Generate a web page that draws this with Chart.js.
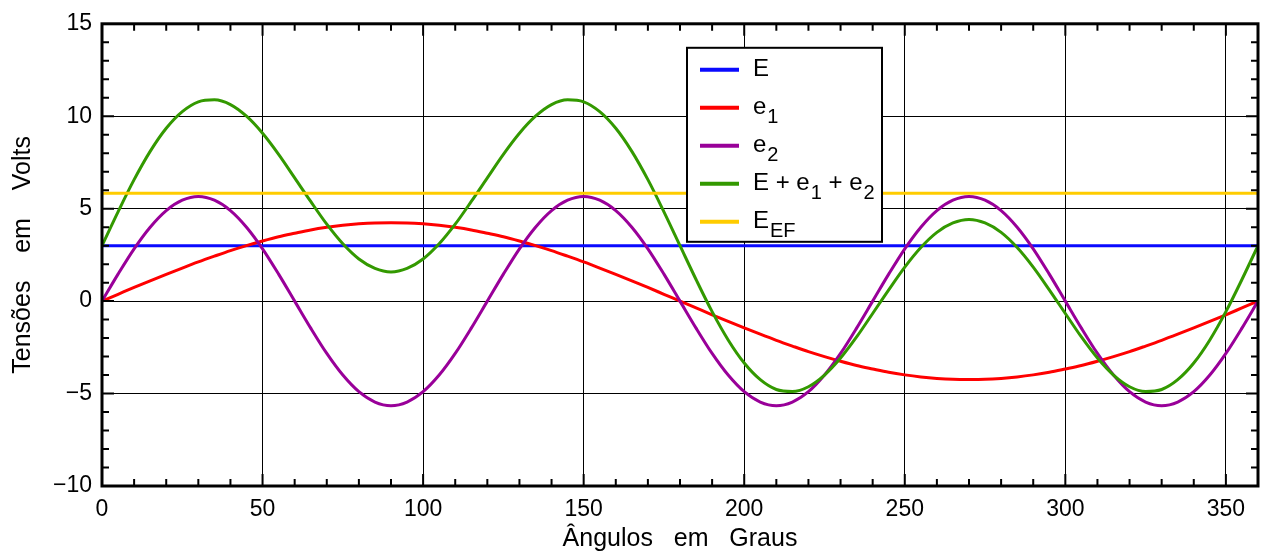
<!DOCTYPE html>
<html>
<head>
<meta charset="utf-8">
<script src="https://cdn.jsdelivr.net/npm/chart.js@4.4.1/dist/chart.umd.min.js"></script>
<style>
  html, body { margin: 0; padding: 0; background: #fff; }
  .wrap { width: 1263px; height: 554px; }
</style>
</head>
<body>
<div class="wrap"><canvas id="myChart"></canvas></div>
<script>
// angles in degrees, every 5
const angles = [0, 5, 10, 15, 20, 25, 30, 35, 40, 45, 50, 55, 60, 65, 70, 75, 80, 85, 90,
  95, 100, 105, 110, 115, 120, 125, 130, 135, 140, 145, 150, 155, 160, 165, 170, 175, 180,
  185, 190, 195, 200, 205, 210, 215, 220, 225, 230, 235, 240, 245, 250, 255, 260, 265, 270,
  275, 280, 285, 290, 295, 300, 305, 310, 315, 320, 325, 330, 335, 340, 345, 350, 355, 360];

const xTicks = [0, 50, 100, 150, 200, 250, 300, 350];
const yTicks = [-10, -5, 0, 5, 10, 15];

const flatAngles = [0, 360];
const E = [3, 3];
const Eef = [5.83, 5.83];

const e1 = [0, 0.37, 0.74, 1.10, 1.45, 1.79, 2.12, 2.43, 2.73, 3.00, 3.25, 3.48, 3.67, 3.85, 3.99, 4.10, 4.18, 4.23, 4.24,
  4.23, 4.18, 4.10, 3.99, 3.85, 3.67, 3.48, 3.25, 3.00, 2.73, 2.43, 2.12, 1.79, 1.45, 1.10, 0.74, 0.37, 0,
  -0.37, -0.74, -1.10, -1.45, -1.79, -2.12, -2.43, -2.73, -3.00, -3.25, -3.48, -3.67, -3.85, -3.99, -4.10, -4.18, -4.23, -4.24,
  -4.23, -4.18, -4.10, -3.99, -3.85, -3.67, -3.48, -3.25, -3.00, -2.73, -2.43, -2.12, -1.79, -1.45, -1.10, -0.74, -0.37, 0];

const e2 = [0, 1.46, 2.83, 4.00, 4.90, 5.46, 5.66, 5.46, 4.90, 4.00, 2.83, 1.46,
  0, -1.46, -2.83, -4.00, -4.90, -5.46, -5.66, -5.46, -4.90, -4.00, -2.83, -1.46,
  0, 1.46, 2.83, 4.00, 4.90, 5.46, 5.66, 5.46, 4.90, 4.00, 2.83, 1.46,
  0, -1.46, -2.83, -4.00, -4.90, -5.46, -5.66, -5.46, -4.90, -4.00, -2.83, -1.46,
  0, 1.46, 2.83, 4.00, 4.90, 5.46, 5.66, 5.46, 4.90, 4.00, 2.83, 1.46,
  0, -1.46, -2.83, -4.00, -4.90, -5.46, -5.66, -5.46, -4.90, -4.00, -2.83, -1.46, 0];

const total = [3.00, 4.83, 6.57, 8.10, 9.35, 10.25, 10.78, 10.89, 10.63, 10.00, 9.08, 7.94, 6.67, 5.39, 4.16, 3.10, 2.28, 1.77, 1.58,
  1.77, 2.28, 3.10, 4.16, 5.39, 6.67, 7.94, 9.08, 10.00, 10.63, 10.89, 10.78, 10.25, 9.35, 8.10, 6.57, 4.83, 3.00,
  1.17, -0.57, -2.10, -3.35, -4.25, -4.78, -4.89, -4.63, -4.00, -3.08, -1.94, -0.67, 0.61, 1.84, 2.90, 3.72, 4.23, 4.42,
  4.23, 3.72, 2.90, 1.84, 0.61, -0.67, -1.94, -3.08, -4.00, -4.63, -4.89, -4.78, -4.25, -3.35, -2.10, -0.57, 1.17, 3.00];

const names = ["E", "e1", "e2", "E + e1 + e2", "EEF"];
const colors = ["#0a0aff", "#ff0000", "#990099", "#339900", "#ffcc00"];
// legend text pieces: [text, subscript]
const legendParts = [
  [["E", ""]],
  [["e", "1"]],
  [["e", "2"]],
  [["E + e", "1"], [" + e", "2"]],
  [["E", "EF"]],
];

const FONT = '"Liberation Sans", Arial, Helvetica, sans-serif';

const toPoints = (xs, ys) => xs.map((x, i) => ({ x: x, y: ys[i] }));

function lineSet(i, xs, ys) {
  return {
    label: names[i],
    data: toPoints(xs, ys),
    borderColor: colors[i],
    backgroundColor: colors[i],
    borderWidth: 3,
    pointRadius: 0,
    cubicInterpolationMode: "monotone",
    fill: false,
    order: 4 - i,
  };
}

// frame, inward ticks and boxed legend
const framePlugin = {
  id: "frameTicks",
  afterDatasetsDraw(chart) {
    const { ctx, chartArea: a } = chart;
    const xs = chart.scales.x;
    const ys = chart.scales.y;
    ctx.save();
    ctx.strokeStyle = "#000";
    ctx.lineWidth = 2;
    ctx.beginPath();
    for (let v = 10; v < 360; v += 10) {
      const px = xs.getPixelForValue(v);
      const len = v % 50 === 0 ? 12 : 7;
      ctx.moveTo(px, a.bottom); ctx.lineTo(px, a.bottom - len);
      ctx.moveTo(px, a.top); ctx.lineTo(px, a.top + len);
    }
    for (let v = -9; v < 15; v += 1) {
      const py = ys.getPixelForValue(v);
      const len = v % 5 === 0 ? 12 : 7;
      ctx.moveTo(a.left, py); ctx.lineTo(a.left + len, py);
      ctx.moveTo(a.right, py); ctx.lineTo(a.right - len, py);
    }
    ctx.stroke();
    ctx.lineWidth = 3;
    ctx.strokeRect(a.left, a.top, a.right - a.left, a.bottom - a.top);

    // legend box
    const x0 = a.left + 585, y0 = a.top + 24, w = 195, h = 194;
    ctx.fillStyle = "#fff";
    ctx.fillRect(x0, y0, w, h);
    ctx.lineWidth = 2;
    ctx.strokeRect(x0, y0, w, h);
    legendParts.forEach((parts, i) => {
      const y = y0 + 22 + i * 38;
      ctx.strokeStyle = colors[i];
      ctx.lineWidth = 4;
      ctx.beginPath();
      ctx.moveTo(x0 + 13, y);
      ctx.lineTo(x0 + 52, y);
      ctx.stroke();
      let tx = x0 + 66;
      ctx.fillStyle = "#000";
      ctx.textBaseline = "alphabetic";
      ctx.textAlign = "left";
      parts.forEach(([txt, sub]) => {
        ctx.font = "24px " + FONT;
        ctx.fillText(txt, tx, y + 6);
        tx += ctx.measureText(txt).width;
        if (sub) {
          ctx.font = "20px " + FONT;
          ctx.fillText(sub, tx + 1, y + 15);
          tx += ctx.measureText(sub).width + 1;
        }
      });
    });
    ctx.restore();
  },
};

const ctx = document.getElementById("myChart");

new Chart(ctx, {
  type: "line",
  data: {
    datasets: [
      lineSet(0, flatAngles, E),
      lineSet(1, angles, e1),
      lineSet(2, angles, e2),
      lineSet(3, angles, total),
      lineSet(4, flatAngles, Eef),
    ],
  },
  options: {
    responsive: true,
    maintainAspectRatio: false,
    animation: false,
    layout: { padding: { top: 22, right: 5, left: 0, bottom: 0 } },
    plugins: {
      legend: { display: false },
      tooltip: { enabled: false },
    },
    scales: {
      x: {
        type: "linear",
        min: 0,
        max: 360,
        afterBuildTicks: (scale) => {
          scale.ticks = xTicks.map((v) => ({ value: v }));
        },
        afterFit: (scale) => {
          scale.height = 68;
        },
        ticks: {
          padding: 10,
          color: "#000",
          font: { family: FONT, size: 23 },
        },
        grid: { color: "#000", lineWidth: 1, drawTicks: false },
        border: { display: false },
        title: {
          display: true,
          text: "Ângulos   em   Graus",
          color: "#000",
          font: { family: FONT, size: 25, lineHeight: 1 },
          padding: { top: 0, bottom: 2 },
        },
      },
      y: {
        min: -10,
        max: 15,
        afterBuildTicks: (scale) => {
          scale.ticks = yTicks.map((v) => ({ value: v }));
        },
        afterFit: (scale) => {
          scale.width = 102;
        },
        ticks: {
          padding: 10,
          color: "#000",
          font: { family: FONT, size: 23 },
          callback: (v) => String(v).replace("-", "\u2212"),
        },
        grid: { color: "#000", lineWidth: 1, drawTicks: false },
        border: { display: false },
        title: {
          display: true,
          text: "Tensões    em    Volts",
          color: "#000",
          font: { family: FONT, size: 25, lineHeight: 1 },
          padding: { top: 11, bottom: 0 },
        },
      },
    },
  },
  plugins: [framePlugin],
});
</script>
</body>
</html>
